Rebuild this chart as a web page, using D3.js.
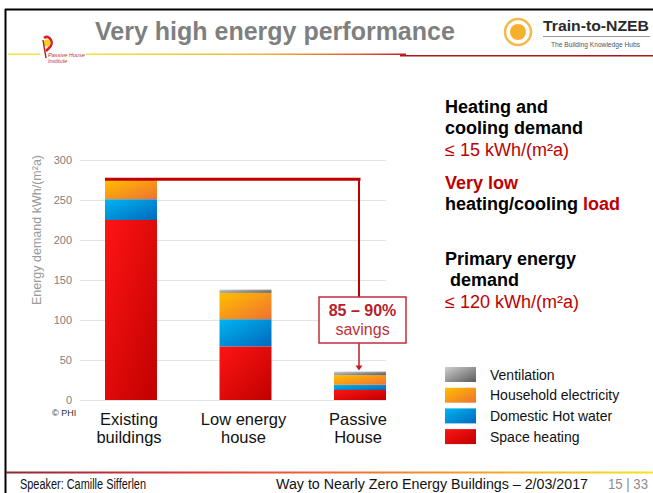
<!DOCTYPE html>
<html><head><meta charset="utf-8">
<script src="https://cdn.jsdelivr.net/npm/d3@7"></script>
<style>
html,body{margin:0;padding:0;background:#fff;}
svg{display:block;font-family:"Liberation Sans",Arial,sans-serif;}
</style></head>
<body>
<svg id="c" width="653" height="493"></svg>
<script>
// ---- data ----
const categories = ["Existing buildings", "Low energy house", "Passive House"];
const categoryLines = [["Existing", "buildings"], ["Low energy", "house"], ["Passive", "House"]];
const seriesNames = ["Space heating", "Domestic Hot water", "Household electricity", "Ventilation"];
const spaceHeating = [225, 67, 12.5];
const hotWater = [26, 34, 6.5];
const householdElectricity = [25, 33, 12];
const ventilation = [0, 4, 4.5];
const yTicks = [0, 50, 100, 150, 200, 250, 300];
const legendOrder = ["Ventilation", "Household electricity", "Domestic Hot water", "Space heating"];

const svg = d3.select("#c");
const defs = svg.append("defs");

const grad = {
  "Space heating": ["#ff1414", "#c00000"],
  "Domestic Hot water": ["#00b6f2", "#0068bc"],
  "Household electricity": ["#ffc000", "#f07030"],
  "Ventilation": ["#cfcfcf", "#5a5a5a"]
};
const gid = n => "g_" + n.replace(/\s+/g, "_");
Object.entries(grad).forEach(([k, c]) => {
  const g = defs.append("linearGradient").attr("id", gid(k))
    .attr("x1", 0).attr("y1", 0).attr("x2", 1).attr("y2", 1);
  g.append("stop").attr("offset", "0%").attr("stop-color", c[0]);
  g.append("stop").attr("offset", "100%").attr("stop-color", c[1]);
});

// ---- frame / header / footer ----
svg.append("line").attr("x1", 5).attr("x2", 653).attr("y1", 9.5).attr("y2", 9.5).attr("stroke", "#000").attr("stroke-width", 2);
svg.append("line").attr("x1", 5.5).attr("x2", 5.5).attr("y1", 9).attr("y2", 493).attr("stroke", "#000").attr("stroke-width", 2);

const hg = defs.append("linearGradient").attr("id", "hdr").attr("x1", 0).attr("x2", 1).attr("y1", 0).attr("y2", 0);
[["0%", "#f3e23a"], ["55%", "#f2b23a"], ["85%", "#e06030"], ["100%", "#c02020"]].forEach(s => hg.append("stop").attr("offset", s[0]).attr("stop-color", s[1]));
svg.append("rect").attr("x", 8).attr("y", 53.5).attr("width", 32).attr("height", 1.5).attr("fill", "#f3e23a");
svg.append("rect").attr("x", 86).attr("y", 53.5).attr("width", 320).attr("height", 1.5).attr("fill", "url(#hdr)");
svg.append("rect").attr("x", 400).attr("y", 55).attr("width", 253).attr("height", 1.5).attr("fill", "#a81818");

const fg = defs.append("linearGradient").attr("id", "ftr").attr("x1", 0).attr("x2", 1).attr("y1", 0).attr("y2", 0);
[["0%", "#8a2a35"], ["30%", "#e23a3a"], ["70%", "#f29a30"], ["100%", "#f8e41e"]].forEach(s => fg.append("stop").attr("offset", s[0]).attr("stop-color", s[1]));
svg.append("rect").attr("x", 6).attr("y", 471.5).attr("width", 647).attr("height", 2).attr("fill", "url(#ftr)");

svg.append("text").attr("x", 95).attr("y", 40).attr("font-size", 25).attr("font-weight", "bold").attr("fill", "#7f7f7f").text("Very high energy performance");

// Passive House Institute logo (small)
const pl = svg.append("g");
pl.append("path").attr("d", "M44,38 q4,-3 7,2 q2,4 -2,8 l-3,3").attr("fill", "none").attr("stroke", "#d42020").attr("stroke-width", 2.5);
pl.append("circle").attr("cx", 47).attr("cy", 43).attr("r", 3.5).attr("fill", "#f5d020");
pl.append("path").attr("d", "M43,40 l3,18").attr("stroke", "#c02020").attr("stroke-width", 1.5);
pl.append("text").attr("x", 48).attr("y", 57).attr("font-size", 5.5).attr("font-style", "italic").attr("fill", "#c03030").text("Passive House");
pl.append("text").attr("x", 48).attr("y", 63).attr("font-size", 5.5).attr("font-style", "italic").attr("fill", "#c03030").text("Institute");

// Train-to-NZEB logo
const tl = svg.append("g");
tl.append("circle").attr("cx", 518).attr("cy", 32).attr("r", 13).attr("fill", "#fff").attr("stroke", "#f6b84a").attr("stroke-width", 2.5);
tl.append("circle").attr("cx", 518).attr("cy", 32).attr("r", 8).attr("fill", "#f7b02b");
tl.append("text").attr("x", 543).attr("y", 31).attr("font-size", 15.5).attr("font-weight", "bold").attr("fill", "#2a2a2a").attr("textLength", 106).attr("lengthAdjust", "spacingAndGlyphs").text("Train-to-NZEB");
tl.append("line").attr("x1", 543).attr("x2", 650).attr("y1", 36.5).attr("y2", 36.5).attr("stroke", "#999").attr("stroke-width", 1);
tl.append("text").attr("x", 551).attr("y", 47).attr("font-size", 6.5).attr("fill", "#555").attr("textLength", 89).attr("lengthAdjust", "spacingAndGlyphs").text("The Building Knowledge Hubs");

// footer
svg.append("text").attr("x", 20).attr("y", 489).attr("font-size", 14).attr("fill", "#111").attr("textLength", 126).attr("lengthAdjust", "spacingAndGlyphs").text("Speaker: Camille Sifferlen");
svg.append("text").attr("x", 276).attr("y", 489).attr("font-size", 14).attr("fill", "#111").attr("textLength", 312).attr("lengthAdjust", "spacingAndGlyphs").text("Way to Nearly Zero Energy Buildings – 2/03/2017");
svg.append("text").attr("x", 608).attr("y", 489).attr("font-size", 14).attr("fill", "#8c8c8c").attr("textLength", 40).attr("lengthAdjust", "spacingAndGlyphs").text("15 | 33");

// ---- chart ----
const y = d3.scaleLinear().domain([0, 300]).range([400, 160]);
const x = d3.scaleBand().domain(categories).range([105, 386]).paddingInner(0.546).paddingOuter(0);
const bw = x.bandwidth();

const grid = svg.append("g");
grid.selectAll("line").data(yTicks).join("line")
  .attr("x1", 80).attr("x2", 386).attr("y1", d => y(d) + 0.5).attr("y2", d => y(d) + 0.5)
  .attr("stroke", "#e4e4e4").attr("stroke-width", 1);

const yAxis = svg.append("g").attr("transform", "translate(72,0)")
  .call(d3.axisLeft(y).tickValues(yTicks).tickSize(0).tickPadding(0));
yAxis.select(".domain").remove();
yAxis.selectAll("text").attr("font-size", 11).attr("fill", "#808080").attr("font-family", "Liberation Sans, Arial, sans-serif");

svg.append("text").attr("transform", "translate(41,230) rotate(-90)").attr("text-anchor", "middle")
  .attr("font-size", 12.5).attr("fill", "#9a9a9a").text("Energy demand kWh/(m²a)");

const table = categories.map((c, i) => ({
  cat: c,
  "Space heating": spaceHeating[i],
  "Domestic Hot water": hotWater[i],
  "Household electricity": householdElectricity[i],
  "Ventilation": ventilation[i]
}));
const stacked = d3.stack().keys(seriesNames)(table);

svg.append("g").selectAll("g").data(stacked).join("g")
  .attr("fill", d => `url(#${gid(d.key)})`)
  .selectAll("rect").data(d => d).join("rect")
  .attr("x", d => x(d.data.cat))
  .attr("width", bw)
  .attr("y", d => y(d[1]))
  .attr("height", d => y(d[0]) - y(d[1]));

// category labels
const cl = svg.append("g");
categories.forEach((c, i) => {
  categoryLines[i].forEach((t, j) => {
    cl.append("text").attr("x", x(c) + bw / 2 - 2).attr("y", 425 + j * 18)
      .attr("text-anchor", "middle").attr("font-size", 16.5).attr("fill", "#111").text(t);
  });
});
svg.append("text").attr("x", 52).attr("y", 416).attr("font-size", 9).attr("fill", "#333").text("© PHI");

// savings annotation
const totals = table.map(d => seriesNames.reduce((s, k) => s + d[k], 0));
const topY = y(totals[0]);
const ax = x(categories[2]) + bw / 2 - 1;
const red = "#c00000";
svg.append("line").attr("x1", x(categories[0])).attr("x2", ax + 1.5).attr("y1", topY).attr("y2", topY).attr("stroke", red).attr("stroke-width", 3);
svg.append("line").attr("x1", ax).attr("x2", ax).attr("y1", topY).attr("y2", 297).attr("stroke", red).attr("stroke-width", 2);
svg.append("line").attr("x1", ax).attr("x2", ax).attr("y1", 343).attr("y2", y(totals[2]) - 5).attr("stroke", "#b8202a").attr("stroke-width", 1.5);
svg.append("path").attr("d", `M${ax - 3.5},${y(totals[2]) - 6} L${ax + 3.5},${y(totals[2]) - 6} L${ax},${y(totals[2]) - 1} Z`).attr("fill", "#b8202a");
svg.append("rect").attr("x", 319).attr("y", 297).attr("width", 87).attr("height", 46)
  .attr("fill", "#fff").attr("stroke", "#c0303a").attr("stroke-width", 1.5);
svg.append("text").attr("x", 362.5).attr("y", 316).attr("text-anchor", "middle").attr("font-size", 16).attr("font-weight", "bold").attr("fill", "#b8202a").text("85 – 90%");
svg.append("text").attr("x", 362.5).attr("y", 335).attr("text-anchor", "middle").attr("font-size", 16).attr("fill", "#c0303a").text("savings");

// right-hand text block
const rt = svg.append("g").attr("font-size", 18);
const addLine = (yy, parts, dx) => {
  const t = rt.append("text").attr("x", 445 + (dx || 0)).attr("y", yy);
  parts.forEach(p => t.append("tspan").attr("fill", p[1]).attr("font-weight", p[2] ? "bold" : "normal").text(p[0]));
};
addLine(113, [["Heating and", "#000", 1]]);
addLine(134, [["cooling demand", "#000", 1]]);
addLine(156, [["≤ 15 kWh/(m²a)", red, 0]]);
addLine(189, [["Very low", red, 1]]);
addLine(210, [["heating/cooling ", "#000", 1], ["load", red, 1]]);
addLine(265, [["Primary energy", "#000", 1]]);
addLine(286, [[" demand", "#000", 1]], 5);
addLine(308, [["≤ 120 kWh/(m²a)", red, 0]]);

// legend
const lg = svg.append("g");
legendOrder.forEach((k, i) => {
  const yy = 367 + i * 20.7;
  lg.append("rect").attr("x", 445).attr("y", yy).attr("width", 31).attr("height", 15).attr("fill", `url(#${gid(k)})`);
  lg.append("text").attr("x", 490).attr("y", yy + 12.5).attr("font-size", 14).attr("fill", "#111").text(k);
});
</script>
</body></html>
